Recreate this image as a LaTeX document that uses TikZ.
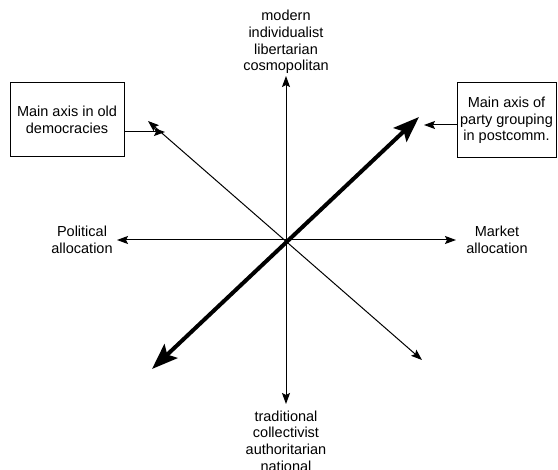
\documentclass[tikz,border=0pt]{standalone}
\usepackage{fontspec}
\setmainfont{Liberation Sans}
\usetikzlibrary{arrows.meta}
\begin{document}
\begin{tikzpicture}[x=1pt,y=-1pt,
  lbl/.style={align=center,font=\fontsize{14.5}{16.7}\selectfont,inner sep=0pt},
  boxed/.style={draw,line width=1pt,align=center,font=\fontsize{14.5}{16.7}\selectfont,inner sep=0pt},
  axis/.style={line width=1pt,{Stealth[length=11pt,width=8pt,inset=2pt]}-{Stealth[length=11pt,width=8pt,inset=2pt]}},
  bigaxis/.style={line width=4pt,{Stealth[length=26pt,width=19pt,inset=5pt]}-{Stealth[length=26pt,width=19pt,inset=5pt]}},
  pointer/.style={line width=1pt,-{Stealth[length=11pt,width=8pt,inset=2pt]}}]
\useasboundingbox (0,0) rectangle (558,470);
% labels
\node[lbl] (top) at (286,42) {modern\\individualist\\libertarian\\cosmopolitan};
\node[lbl] (bot) at (286,441) {traditional\\collectivist\\authoritarian\\national};
\node[lbl] (pol) at (82,240) {Political\\allocation};
\node[lbl] (mkt) at (497,240) {Market\\allocation};
\node[boxed,minimum width=114pt,minimum height=74pt] (lbox) at (67,120) {Main axis in old\\democracies};
\node[boxed,minimum width=99pt,minimum height=75pt] (rbox) at (506.5,120.5) {Main axis of\\party grouping\\in postcomm.};
% axis endpoints
\coordinate (c) at (286,240);
\coordinate (n) at (286,76);
\coordinate (s) at (286,404);
\coordinate (w) at (117,240);
\coordinate (e) at (456,240);
\coordinate (nw) at (148,121);
\coordinate (se) at (422,360);
\coordinate (sw) at (152,369);
\coordinate (ne) at (419,117);
\coordinate (la) at (165,132);
\coordinate (ra) at (424,125);
% axes
\draw[axis] (s) -- (n);
\draw[axis] (w) -- (e);
\draw[axis] (nw) -- (se);
\draw[bigaxis] (sw) -- (ne);
% pointers
\draw[pointer] (lbox.east |- la) -- (la);
\draw[pointer] (rbox.west |- ra) -- (ra);
\end{tikzpicture}
\end{document}
